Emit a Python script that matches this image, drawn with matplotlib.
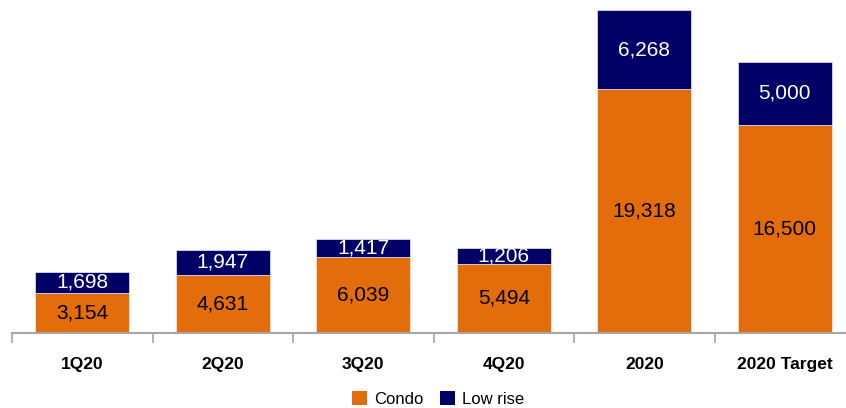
import matplotlib
matplotlib.use("Agg")
import matplotlib.pyplot as plt
from matplotlib.patches import Patch
import numpy as np

categories = ["1Q20", "2Q20", "3Q20", "4Q20", "2020", "2020 Target"]
condo = [3154, 4631, 6039, 5494, 19318, 16500]
low_rise = [1698, 1947, 1417, 1206, 6268, 5000]

ORANGE = "#E36C0B"
NAVY = "#000066"

plt.rcParams["font.family"] = ["Liberation Sans", "DejaVu Sans"]

W, H = 846, 408
fig = plt.figure(figsize=(W / 100, H / 100), dpi=100)
# axes: left 12px, right 855px (beyond the figure edge), baseline y=333, top y=10 (2020 total)
left, right = 12, 855
base, top = 333, 10
ax = fig.add_axes([left / W, (H - base) / H, (right - left) / W, (base - top) / H])

x = np.arange(len(categories))
totals = [c + l for c, l in zip(condo, low_rise)]
ax.set_xlim(-0.5, len(categories) - 0.5)
ax.set_ylim(0, max(totals))

bw = 0.67
ax.bar(x, condo, width=bw, color=ORANGE, edgecolor="#F2E6DC", linewidth=0.6, zorder=2)
ax.bar(x, low_rise, width=bw, bottom=condo, color=NAVY, edgecolor="#D8D8E8", linewidth=0.6, zorder=2)

for i in range(len(categories)):
    ax.text(x[i], condo[i] / 2, f"{condo[i]:,}", ha="center", va="center",
            fontsize=15, color="black", zorder=3)
    ax.text(x[i], condo[i] + low_rise[i] / 2, f"{low_rise[i]:,}", ha="center", va="center",
            fontsize=15, color="white", zorder=3)

for s in ["top", "right", "left"]:
    ax.spines[s].set_visible(False)
ax.spines["bottom"].set_color("#A6A6A6")
ax.spines["bottom"].set_linewidth(1.5)
ax.set_yticks([])

ax.set_xticks(np.arange(-0.5, len(categories) - 0.5, 1.0))
ax.set_xticklabels([])
ax.tick_params(axis="x", direction="out", length=7, width=1.2, color="#A6A6A6")
ax.set_xticks(x, minor=True)
ax.set_xticklabels(categories, minor=True, fontsize=12.5, fontweight="bold")
ax.tick_params(axis="x", which="minor", length=0, pad=17)

handles = [Patch(facecolor=ORANGE, edgecolor="none", label="Condo"),
           Patch(facecolor=NAVY, edgecolor="none", label="Low rise")]
fig.legend(handles=handles, loc="center", bbox_to_anchor=(438 / W, (H - 399) / H),
           ncol=2, frameon=False, fontsize=12, handlelength=0.9, handleheight=0.9,
           handletextpad=0.4, columnspacing=1.0)

fig.savefig("out.png", dpi=100)
